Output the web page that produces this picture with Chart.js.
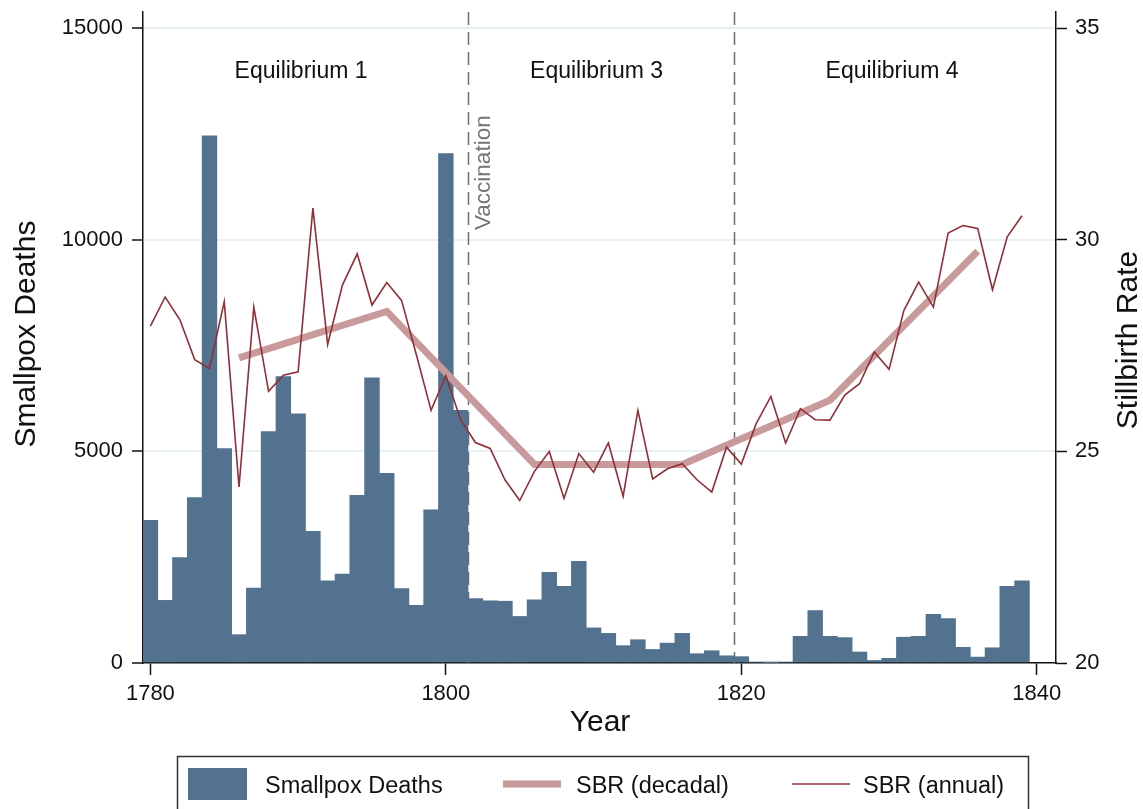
<!DOCTYPE html>
<html>
<head>
<meta charset="utf-8">
<script src="https://cdn.jsdelivr.net/npm/chart.js@4.4.1/dist/chart.umd.min.js"></script>
<style>
  html, body { margin: 0; padding: 0; background: #ffffff; }
  #wrap { width: 1143px; height: 809px; position: relative; }
</style>
</head>
<body>
<div id="wrap"><canvas id="chart" width="1143" height="809"></canvas></div>
<script>
// Annual series, 1780-1839
const years = [
  1780, 1781, 1782, 1783, 1784, 1785, 1786, 1787, 1788, 1789,
  1790, 1791, 1792, 1793, 1794, 1795, 1796, 1797, 1798, 1799,
  1800, 1801, 1802, 1803, 1804, 1805, 1806, 1807, 1808, 1809,
  1810, 1811, 1812, 1813, 1814, 1815, 1816, 1817, 1818, 1819,
  1820, 1821, 1822, 1823, 1824, 1825, 1826, 1827, 1828, 1829,
  1830, 1831, 1832, 1833, 1834, 1835, 1836, 1837, 1838, 1839
];
const smallpoxDeaths = [
  3370, 1480, 2490, 3910, 12460, 5070, 670, 1770, 5470, 6770,
  5890, 3110, 1940, 2100, 3960, 6740, 4480, 1760, 1360, 3620,
  12040, 5970, 1520, 1470, 1460, 1100, 1490, 2140, 1810, 2400,
  830, 700, 410, 550, 320, 470, 700, 220, 290, 170,
  150, 20, 10, 20, 630, 1240, 630, 600, 260, 60,
  110, 610, 630, 1150, 1050, 370, 140, 360, 1810, 1940
];
const sbrAnnual = [
  27.96, 28.65, 28.11, 27.17, 26.96, 28.54, 24.16, 28.41, 26.42, 26.80,
  26.88, 30.75, 27.53, 28.93, 29.67, 28.46, 28.99, 28.57, 27.29, 25.97,
  26.79, 25.75, 25.21, 25.07, 24.33, 23.84, 24.53, 25.00, 23.89, 24.95,
  24.51, 25.20, 23.94, 25.97, 24.35, 24.59, 24.71, 24.33, 24.04, 25.10,
  24.70, 25.65, 26.30, 25.20, 26.01, 25.75, 25.74, 26.33, 26.60, 27.35,
  26.94, 28.33, 29.00, 28.41, 30.16, 30.34, 30.27, 28.82, 30.07, 30.57
];

// Decadal averages, plotted at decade mid-points
const decadeYears = [1786, 1796, 1806, 1816, 1826, 1836];
const sbrDecadal = [27.21, 28.31, 24.69, 24.69, 26.21, 29.73];

// Axis ticks
const deathTicks = [0, 5000, 10000, 15000];
const sbrTicks = [20, 25, 30, 35];
const yearTicks = [1780, 1800, 1820, 1840];

// Regime breaks and their labels
const breakYears = [1801.5, 1819.5];
const eraLabels = ['Equilibrium 1', 'Equilibrium 3', 'Equilibrium 4'];
const eraLabelYears = [1790.2, 1810.2, 1830.2];
const breakLabel = 'Vaccination';

const FONT = '"Liberation Sans", Arial, Helvetica, sans-serif';
const INK = '#111111';

const toPoints = (xs, ys) => xs.map((x, i) => ({ x: x, y: ys[i] }));

// Drop the extra room Chart.js keeps for overhanging tick labels
const noOverhang = s => {
  s.paddingTop = 0; s.paddingBottom = 0;
  s.paddingLeft = 0; s.paddingRight = 0;
};

const annotations = {
  id: 'annotations',
  beforeDatasetsDraw(chart) {
    const { ctx, chartArea, scales } = chart;
    ctx.save();
    ctx.strokeStyle = '#6e6e6e';
    ctx.lineWidth = 1.5;
    ctx.setLineDash([13, 7]);
    breakYears.forEach(v => {
      const px = Math.round(scales.x.getPixelForValue(v)) + 0.5;
      ctx.beginPath();
      ctx.moveTo(px, chartArea.top);
      ctx.lineTo(px, chartArea.bottom);
      ctx.stroke();
    });
    ctx.restore();
  },
  afterDraw(chart) {
    const { ctx, scales } = chart;
    const ds = chart.data.datasets;
    ctx.save();
    ctx.fillStyle = INK;
    ctx.textBaseline = 'alphabetic';

    // Era labels
    ctx.font = '23px ' + FONT;
    ctx.textAlign = 'center';
    eraLabels.forEach((t, i) => {
      ctx.fillText(t, scales.x.getPixelForValue(eraLabelYears[i]), 78);
    });

    // Vertical label beside the first break
    ctx.save();
    ctx.fillStyle = '#747474';
    ctx.font = '22.5px ' + FONT;
    ctx.translate(scales.x.getPixelForValue(breakYears[0]) + 22, 230);
    ctx.rotate(-Math.PI / 2);
    ctx.textAlign = 'left';
    ctx.fillText(breakLabel, 0, 0);
    ctx.restore();

    // Axis titles
    ctx.font = '30px ' + FONT;
    ctx.textAlign = 'center';
    ctx.fillText('Year', 600, 731);

    ctx.save();
    ctx.translate(35, 334);
    ctx.rotate(-Math.PI / 2);
    ctx.fillText('Smallpox Deaths', 0, 0);
    ctx.restore();

    ctx.save();
    ctx.translate(1137, 340);
    ctx.rotate(-Math.PI / 2);
    ctx.fillText('Stillbirth Rate', 0, 0);
    ctx.restore();

    // Legend
    ctx.strokeStyle = '#333333';
    ctx.lineWidth = 1.5;
    ctx.strokeRect(177.5, 756.5, 851, 70);

    ctx.font = '23.5px ' + FONT;
    ctx.textAlign = 'left';
    ctx.fillStyle = ds[0].backgroundColor;
    ctx.fillRect(188, 768, 59, 32);
    ctx.fillStyle = INK;
    ctx.fillText(ds[0].label, 265, 793);

    ctx.strokeStyle = ds[1].borderColor;
    ctx.lineWidth = ds[1].borderWidth;
    ctx.beginPath(); ctx.moveTo(503, 784); ctx.lineTo(561, 784); ctx.stroke();
    ctx.fillText(ds[1].label, 576, 793);

    ctx.strokeStyle = ds[2].borderColor;
    ctx.lineWidth = ds[2].borderWidth;
    ctx.beginPath(); ctx.moveTo(792, 784); ctx.lineTo(850, 784); ctx.stroke();
    ctx.fillText(ds[2].label, 863, 793);

    ctx.restore();
  }
};

const tickFont = { family: FONT, size: 22 };

new Chart(document.getElementById('chart'), {
  type: 'bar',
  data: {
    datasets: [
      {
        type: 'bar',
        label: 'Smallpox Deaths',
        data: toPoints(years, smallpoxDeaths),
        backgroundColor: '#52728f',
        borderWidth: 0,
        barPercentage: 1.0,
        categoryPercentage: 1.0,
        xAxisID: 'x',
        yAxisID: 'y',
        order: 3
      },
      {
        type: 'line',
        label: 'SBR (decadal)',
        data: toPoints(decadeYears, sbrDecadal),
        borderColor: '#c99a9c',
        borderWidth: 7,
        borderCapStyle: 'butt',
        borderJoinStyle: 'miter',
        pointRadius: 0,
        tension: 0,
        fill: false,
        xAxisID: 'x',
        yAxisID: 'y2',
        order: 2
      },
      {
        type: 'line',
        label: 'SBR (annual)',
        data: toPoints(years, sbrAnnual),
        borderColor: '#912e36',
        borderWidth: 1.6,
        pointRadius: 0,
        tension: 0,
        fill: false,
        xAxisID: 'x',
        yAxisID: 'y2',
        order: 1
      }
    ]
  },
  options: {
    responsive: false,
    animation: false,
    layout: { padding: { top: 12, left: 0, right: 0, bottom: 0 } },
    plugins: { legend: { display: false }, tooltip: { enabled: false } },
    scales: {
      x: {
        type: 'linear',
        position: 'bottom',
        min: 1779.5,
        max: 1841.3,
        offset: false,
        afterBuildTicks: s => { s.ticks = yearTicks.map(v => ({ value: v })); },
        afterFit: s => { s.height = 146; noOverhang(s); },
        ticks: {
          font: tickFont, color: INK, padding: 6, maxRotation: 0, autoSkip: false,
          callback: v => String(v)
        },
        grid: {
          offset: false, drawOnChartArea: false, drawTicks: true,
          tickLength: 12, tickColor: INK, tickWidth: 1.5
        },
        border: { color: INK, width: 1.5 }
      },
      y: {
        position: 'left',
        min: 0,
        max: 15385,
        afterBuildTicks: s => { s.ticks = deathTicks.map(v => ({ value: v })); },
        afterFit: s => { s.width = 143; noOverhang(s); },
        ticks: { font: tickFont, color: INK, padding: 9, callback: v => String(v) },
        grid: {
          offset: false,
          color: c => (c.tick && c.tick.value === 0) ? 'rgba(0,0,0,0)' : '#e7f0f2',
          lineWidth: 2,
          drawTicks: true, tickLength: 11, tickColor: INK, tickWidth: 1.5
        },
        border: { color: INK, width: 1.5 }
      },
      y2: {
        position: 'right',
        min: 20,
        max: 35.385,
        afterBuildTicks: s => { s.ticks = sbrTicks.map(v => ({ value: v })); },
        afterFit: s => { s.width = 87; noOverhang(s); },
        ticks: { font: tickFont, color: INK, padding: 8, callback: v => String(v) },
        grid: {
          offset: false, drawOnChartArea: false, drawTicks: true,
          tickLength: 11, tickColor: INK, tickWidth: 1.5
        },
        border: { color: INK, width: 1.5 }
      }
    }
  },
  plugins: [annotations]
});
</script>
</body>
</html>
